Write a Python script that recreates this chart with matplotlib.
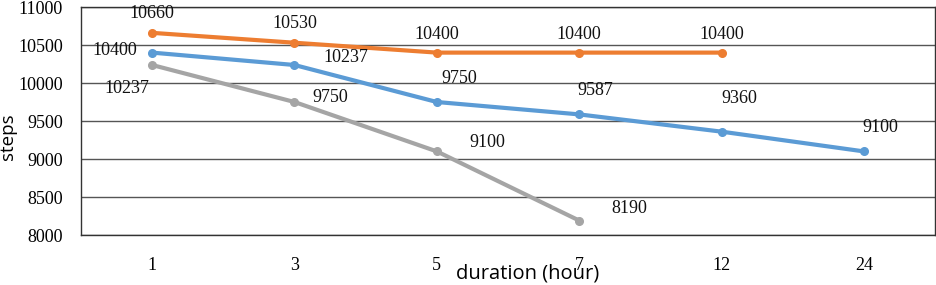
import matplotlib
matplotlib.use("Agg")
import matplotlib.pyplot as plt

durations = ["1", "3", "5", "7", "12", "24"]
orange_vals = [10660, 10530, 10400, 10400, 10400]
blue_vals = [10400, 10237, 9750, 9587, 9360, 9100]
gray_vals = [10237, 9750, 9100, 8190]

# label offsets in pixels (dx, dy), matching where the labels sit in the original
orange_off = [(0, 19), (0, 19), (0, 18), (0, 18), (0, 18)]
blue_off = [(-37, 2), (51, 7), (22, 24), (16, 24), (18, 33), (16, 24)]
gray_off = [(-25, -24), (36, 5), (50, 9), (50, 12)]

serif = "Liberation Serif"
sans = "Open Sans"

fig = plt.figure(figsize=(9.37, 2.85), dpi=100)
ax = fig.add_axes([0.0864, 0.1754, 0.9116, 0.80])

xs = list(range(len(durations)))
series = [
    (orange_vals, "#ED7D31", orange_off),
    (blue_vals, "#5B9BD5", blue_off),
    (gray_vals, "#A5A5A5", gray_off),
]
for vals, col, offs in series:
    x = xs[:len(vals)]
    ax.plot(x, vals, color=col, lw=3, marker="o", ms=5.5, zorder=3)
    for xi, v, (dx, dy) in zip(x, vals, offs):
        ax.annotate(str(v), (xi, v), xytext=(dx * 0.72, dy * 0.72),
                    textcoords="offset points", ha="center", va="center",
                    fontsize=13, family=serif, color="#111111")

ax.set_xlim(-0.5, len(durations) - 0.5)
ax.set_ylim(8000, 11000)
ax.set_yticks(range(8000, 11001, 500))
ax.set_xticks(xs)
ax.set_xticklabels(durations)
ax.grid(axis="y", color="#555555", lw=1)
ax.set_axisbelow(True)
ax.tick_params(length=0)
ax.tick_params(axis="x", pad=16)
ax.tick_params(axis="y", pad=13)
for lab in ax.get_xticklabels() + ax.get_yticklabels():
    lab.set_family(serif)
    lab.set_fontsize(13)
for s in ax.spines.values():
    s.set_color("#333333")
    s.set_linewidth(1)

ax.set_ylabel("steps", family=sans, fontsize=13.5, va="center")
ax.yaxis.set_label_coords(-0.085, 0.43)
fig.text(0.563, 0.04, "duration (hour)", family=sans, fontsize=14.5,
         ha="center", va="center")

plt.savefig("out.png", dpi=100)
